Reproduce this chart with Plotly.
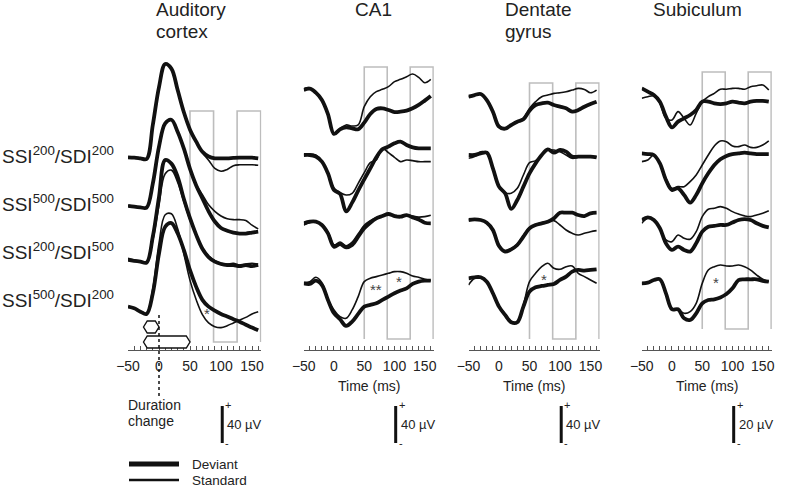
import plotly.graph_objects as go

# ---------------- data ----------------
TIME_MS = list(range(-50, 161, 10))
TICK_MS = [-50, 0, 50, 100, 150]
ROW_LABELS = ["SSI<sup>200</sup>/SDI<sup>200</sup>", "SSI<sup>500</sup>/SDI<sup>500</sup>",
              "SSI<sup>200</sup>/SDI<sup>500</sup>", "SSI<sup>500</sup>/SDI<sup>200</sup>"]
REGION_TITLES = [["Auditory", "cortex"], ["CA1"], ["Dentate", "gyrus"], ["Subiculum"]]
SCALE_UV = [40, 40, 40, 20]
WINDOWS_MS = [50, 88, 126, 164]

# Auditory cortex (µV), rows top->bottom
AC_DEV = [
    [1.1, 0.7, 0, -0.7, 36, 77, 102, 97, 74, 50, 31, 18, 7, 2, 0, 0, 0, 0.4, 0.7, 0.7, 0.7, 0],
    [1, 0, -0.7, -1, 25, 65, 90, 94, 81, 63, 41, 23, 9, -5, -16, -23, -26, -28, -29, -29, -28, -27],
    [2, 1, 0, -1, 27, 70, 110, 106, 92, 68, 47, 29, 14, 5, 0, -2.5, -3.6, -3.6, -4.7, -3.6, -4.7, -3.6],
    [3.6, 1.8, -1.8, -4.3, 18, 61, 90, 94, 83, 65, 43, 25, 11, 3.6, -0.7, -4.3, -7, -10, -12.6, -16, -19, -22],
]
AC_STD = [
    [1.1, 0.7, 0, -0.7, 36, 77, 102, 97, 74, 50, 31, 18, 6, -2, -11, -14, -12, -8, -7, -7, -7, -7.5],
    [1, 0, -0.7, -1, 25, 65, 90, 94, 81, 63, 41, 24, 13, 2, -5, -10, -13, -14, -14, -15, -20, -24],
    [3.6, 1.8, 0, -1, 23, 61, 95, 99, 86, 65, 45, 29, 15, 6, 1, -1.8, -2.5, -1.8, -3.6, -2.5, -1.8, -2.5],
    [3.6, 1.4, -1.8, -3.6, 23, 72, 103, 104, 88, 61, 32, 11, -5, -14, -18, -19, -17, -14, -11, -8, -4.3, -1.8],
]
CA1_DEV = [
    [0, 1.4, -2.9, -10.8, -26, -47.5, -42.5, -40.4, -41.4, -42.5, -35.3, -25.9, -20.5, -19.8, -21.6, -23.8, -23.4, -22.3, -19.8, -16.2, -11.5, -6.5],
    [0, 0, -1.8, -7.2, -19.8, -37.8, -42, -61, -51.5, -38.5, -26.3, -14.4, -2.5, 6.1, 9, 12.6, 14.4, 10.8, 8.3, 7.2, 7.2, 7.2],
    [-1.8, 0, 0, -3.6, -12.6, -27, -24.2, -27.7, -25.2, -16.2, -7.2, -1.1, 3.6, 6.1, 8.3, 6.1, 5.4, 7.2, 4.7, 2.5, -1.1, -1.8],
    [0, -0.7, 2.9, -1.8, -18, -32.4, -38.9, -46.1, -41.4, -33.1, -25.2, -23.4, -21.6, -18, -14.4, -10.8, -7.9, -5.4, -0.7, 1.8, 2.9, 2.9],
]
CA1_STD = [
    [1.4, 2.5, -2.9, -11.5, -27, -47, -41.4, -37.8, -38.9, -37.8, -18, -7.2, -1.8, 0.7, 3.6, 9, 11.5, 14.4, 17.3, 13.7, 7.9, 11.5],
    [0, 1.1, 0, -6.1, -19.8, -36, -40.7, -43.2, -41.4, -30.6, -19.1, -8.3, -5.4, 7.2, 2.5, -2.5, -7.2, -5.4, -6.1, -7.2, -7.2, -7.2],
    [-3.6, -1, 0, -3, -11, -25, -22, -26, -22, -13, -4, 1, 4.5, 6.5, 8.3, 7, 6, 7.5, 6, 5, 5.5, 7],
    [0.7, 1.8, 6.5, 0.7, -17.3, -28.8, -36, -37.8, -28.8, -14.4, 1.8, 5.4, 7.2, 9, 10.8, 12.6, 12.6, 10.8, 7.9, 6.5, 4.3, 2.9],
]
DG_DEV = [
    [0, 1.8, 2.9, -3.6, -16.2, -32.4, -34.6, -30.6, -27, -24.5, -15.1, -9, -7.2, -6.5, -9, -10.8, -12.6, -16.2, -14.4, -10.8, -7.9, -5.4],
    [0, 0, 1.8, 2.5, -14.4, -34.2, -41.4, -58.3, -48.6, -34.2, -19.8, -9, 0, 6.1, 2.5, 5.4, 3.6, -1.8, -1.8, -1.8, -1.8, -2.5],
    [0, 0.7, 0, -2.9, -10.8, -28.1, -34.2, -31.7, -27, -18, -9, -5.4, -3.6, -1.8, 1.8, 7.9, 7.9, 7.9, 5.4, 4.3, 7.2, 7.9],
    [0, 1.1, 1.1, -3.6, -16.2, -30.6, -39.6, -47.5, -47.5, -30.6, -14.4, -9.7, -8.3, -7.2, -6.1, -1.8, 1.8, 7.2, 9, 8.3, 9, 9.7],
]
DG_STD = [
    [0, 1.8, 2.5, -4.3, -17.3, -31.3, -34.2, -30.6, -27, -23.4, -12.6, -5.4, 0, 1.8, 3.6, 4.3, 5.4, 7.2, 9, 7.9, 4.3, 7.2],
    [-3.6, -1.8, 3.6, 1.8, -15.5, -34.2, -40.7, -41.4, -36, -21.6, -8.3, -6.1, 0, 5.4, 5.4, 3.6, 0, -3.6, -2.5, -1.8, -1.8, -1.8],
    [0, 0.7, 0, -2.9, -10.8, -27, -33, -31, -26, -17, -8, -5, -3, -1.5, -0.7, -5.4, -10.8, -14.4, -16.2, -14.4, -12.6, -11.5],
    [-7.2, 0, 1.1, -3.6, -16.2, -30.6, -38.5, -46.8, -46.8, -28.8, -3.6, 5.4, 12.6, 16.2, 10.8, 9.7, 12.6, 13.3, 5.4, 1.8, -1.8, -5.4],
]
SUB_DEV = [
    [0.9, -0.9, -2.7, -6.3, -14.4, -20.2, -17.1, -15.3, -13.5, -10.8, -6.3, -6.3, -7.2, -7.6, -7.2, -6.3, -6.8, -7.2, -6.3, -5.9, -5.9, -6.3],
    [0.9, 0.5, 0, -4.5, -13.5, -18.9, -18, -21.6, -25.7, -21.6, -15.3, -9.9, -5.4, -2.3, -0.5, 0.5, 0.9, 1.3, 0.9, 0.5, 0.5, 0.5],
    [-0.9, 0.5, -0.9, -5.4, -13.5, -17.1, -15.3, -17.1, -18, -13.5, -7.2, -4.5, -4.1, -3.6, -3.6, -2.3, -0.9, -0.4, -0.9, -2.7, -4.1, -4.9],
    [-0.9, -0.5, 0.9, 1.3, -6.3, -14.9, -14.9, -19.8, -20.7, -17.1, -11.7, -9.9, -9.5, -8.5, -6.7, -3.6, 0.9, 1.3, 1.3, 1.3, 0.5, 0],
]
SUB_STD = [
    [-4.5, -3.6, -3.2, -7.2, -15.3, -16.2, -11.7, -15.3, -18.9, -12.6, -6.3, -3.6, -1.8, 0.4, 0.4, 0.9, 0.9, 0.4, 1.8, 2.3, 2.7, 0],
    [-3.6, -2.7, 0, -4.5, -12.6, -18, -17.1, -17.1, -14.4, -10.8, -5.4, 0, 4.9, 7.6, 7.2, 4.9, 4.5, 5.4, 4.1, 4.1, 5.4, 7.7],
    [-2.7, 0, -0.9, -5.4, -11.7, -12.6, -9, -10.8, -11.3, -7.2, 0.9, 4.9, 5.4, 6.3, 5.4, 3.6, 2.3, 1.3, 0.9, 1.8, 2.7, 4.1],
    [-0.9, -0.5, 0.9, 1.3, -6.3, -14.4, -14.9, -17.1, -16.2, -11.7, -0.9, 6.3, 8.1, 9, 8.5, 8.5, 9, 8.1, 6.3, 3.6, 1.3, 0],
]
DEVIANT = [AC_DEV, CA1_DEV, DG_DEV, SUB_DEV]
STANDARD = [AC_STD, CA1_STD, DG_STD, SUB_STD]
# significance marks: (panel, time ms, row, µV above row baseline, text)
STARS = [(0, 77, 3, 1, "*"), (1, 70, 3, -2, "**"), (1, 108, 3, 6, "*"),
         (2, 73, 3, 3, "*"), (3, 72, 3, 2, "*")]

# ---------------- layout constants ----------------
W, H = 800, 488
FONT = "Liberation Sans, Arial, sans-serif"
X_RANGE = [-50, 165]
PANEL_X_PX = [(128, 261.3), (303.75, 433.8), (468.5, 599.65), (641.75, 771.8)]
Y_TOP_PX, Y_BOT_PX = 30, 460
BAR_PX = 37.0  # scale bar length in pixels
ROW_BASE_PX = [[158.3, 206.7, 261.7, 310], [90, 155, 221.7, 283.3],
               [96.7, 155, 220, 278.3], [90, 155, 218.3, 281.7]]
BOX_TOP_PX = [111, 67, 83, 72]
BOX_BOT_PX = [342, 339, 339, 329]
AXIS_PX = 350
TITLE_X_PX = [154, 353, 503, 651]
ROW_LABEL_PX = [155, 203, 251, 299]


def px(x):
    return x / W


def py(y):
    return 1 - y / H


fig = go.Figure()
shapes, annos = [], []
INK = "#111111"

for i in range(4):
    xa = "x" if i == 0 else f"x{i+1}"
    ya = "y" if i == 0 else f"y{i+1}"
    ppu = BAR_PX / SCALE_UV[i]  # px per µV
    offsets = [(Y_BOT_PX - b) / ppu for b in ROW_BASE_PX[i]]
    for r in range(4):
        fig.add_trace(go.Scatter(x=TIME_MS, y=[v + offsets[r] for v in STANDARD[i][r]],
                                 mode="lines", line=dict(color=INK, width=1.6, shape="spline", smoothing=1.0),
                                 xaxis=xa, yaxis=ya, showlegend=False, hoverinfo="skip"))
        fig.add_trace(go.Scatter(x=TIME_MS, y=[v + offsets[r] for v in DEVIANT[i][r]],
                                 mode="lines", line=dict(color=INK, width=3.8, shape="spline", smoothing=1.0),
                                 xaxis=xa, yaxis=ya, showlegend=False, hoverinfo="skip"))
    xk = "xaxis" if i == 0 else f"xaxis{i+1}"
    yk = "yaxis" if i == 0 else f"yaxis{i+1}"
    fig.layout[xk] = dict(domain=[px(PANEL_X_PX[i][0]), px(PANEL_X_PX[i][1])], range=X_RANGE,
                          anchor="free", position=py(AXIS_PX), showline=True, linecolor="#555",
                          linewidth=1, ticks="inside", ticklen=4, tickcolor="#555", tickwidth=1,
                          tickmode="array", tickvals=TICK_MS,
                          minor=dict(tickmode="linear", tick0=-50, dtick=10, ticks="inside", ticklen=4,
                                     tickcolor="#555", tickwidth=1, showgrid=False),
                          tickfont=dict(family=FONT, size=14, color="#222"), ticklabelstandoff=3,
                          showgrid=False, zeroline=False, fixedrange=True, automargin=False)
    fig.layout[yk] = dict(domain=[py(Y_BOT_PX), py(Y_TOP_PX)], range=[0, (Y_BOT_PX - Y_TOP_PX) / ppu],
                          visible=False, anchor=xa, fixedrange=True, automargin=False)

    # analysis windows (meander of grey boxes)
    w = WINDOWS_MS
    t, b = py(BOX_TOP_PX[i]), py(BOX_BOT_PX[i])
    path = (f"M{w[0]},{b} L{w[0]},{t} L{w[1]},{t} L{w[1]},{b} L{w[2]},{b} "
            f"L{w[2]},{t} L{w[3]},{t} L{w[3]},{b}")
    shapes.append(dict(type="path", path=path, xref=xa, yref="paper",
                       line=dict(color="#bdbdbd", width=1.6), layer="below"))

    # scale bar
    bar_t = 102
    y0 = (Y_BOT_PX - 443) / ppu
    shapes.append(dict(type="line", xref=xa, yref=ya, x0=bar_t, x1=bar_t, y0=y0, y1=y0 + SCALE_UV[i],
                       line=dict(color=INK, width=3)))
    annos.append(dict(xref=xa, yref=ya, x=bar_t, y=y0 + SCALE_UV[i] / 2, xanchor="left", xshift=3,
                      text=f"{SCALE_UV[i]} µV", showarrow=False,
                      font=dict(family=FONT, size=13, color="#222")))
    annos.append(dict(xref=xa, yref=ya, x=bar_t, y=y0 + SCALE_UV[i], xanchor="left", xshift=1, yshift=1,
                      text="+", showarrow=False, font=dict(family=FONT, size=11, color="#222")))
    annos.append(dict(xref=xa, yref=ya, x=bar_t, y=y0, xanchor="left", xshift=1, yshift=0,
                      text="-", showarrow=False, font=dict(family=FONT, size=11, color="#222")))

    # titles
    for k, line in enumerate(REGION_TITLES[i]):
        annos.append(dict(xref="paper", yref="paper", x=px(TITLE_X_PX[i]), y=py(10 + 22 * k),
                          xanchor="left", yanchor="middle", text=line, showarrow=False,
                          font=dict(family=FONT, size=19, color="#222")))
    if i > 0:
        annos.append(dict(xref=xa, yref="paper", x=57.5, y=py(386), xanchor="center", yanchor="middle",
                          text="Time (ms)", showarrow=False, font=dict(family=FONT, size=14, color="#222")))

# significance stars
for (p, tm, r, dv, txt) in STARS:
    ppu = BAR_PX / SCALE_UV[p]
    base = (Y_BOT_PX - ROW_BASE_PX[p][r]) / ppu
    annos.append(dict(xref="x" if p == 0 else f"x{p+1}", yref="y" if p == 0 else f"y{p+1}",
                      x=tm, y=base + dv, text=txt, showarrow=False, yshift=-4,
                      font=dict(family=FONT, size=15, color="#444")))

# row labels
for r, lab in enumerate(ROW_LABELS):
    annos.append(dict(xref="paper", yref="paper", x=0.0, y=py(ROW_LABEL_PX[r]), xanchor="left",
                      yanchor="middle", text=lab, showarrow=False, font=dict(family=FONT, size=19, color="#222")))

# stimulus duration icons (short and long tones)
def hexagon(t0, t1, s, top, bot):
    m = (top + bot) / 2
    return (f"M{t0},{m} L{t0+s},{top} L{t1-s},{top} L{t1},{m} L{t1-s},{bot} L{t0+s},{bot} Z")

shapes.append(dict(type="path", path=hexagon(-25, 0, 6, py(321), py(333)), xref="x", yref="paper",
                   line=dict(color=INK, width=1.4), fillcolor="white"))
shapes.append(dict(type="path", path=hexagon(-25, 50, 6, py(336), py(348)), xref="x", yref="paper",
                   line=dict(color=INK, width=1.4), fillcolor="white"))
shapes.append(dict(type="line", xref="x", yref="paper", x0=0, x1=0, y0=py(315), y1=py(397),
                   line=dict(color=INK, width=1.5, dash="dot")))
annos.append(dict(xref="paper", yref="paper", x=px(126), y=py(405), xanchor="left", yanchor="middle",
                  text="Duration", showarrow=False, font=dict(family=FONT, size=14, color="#222")))
annos.append(dict(xref="paper", yref="paper", x=px(126), y=py(421), xanchor="left", yanchor="middle",
                  text="change", showarrow=False, font=dict(family=FONT, size=14, color="#222")))

# legend
shapes.append(dict(type="line", xref="paper", yref="paper", x0=px(129), x1=px(179), y0=py(464), y1=py(464),
                   line=dict(color=INK, width=5)))
shapes.append(dict(type="line", xref="paper", yref="paper", x0=px(129), x1=px(179), y0=py(480), y1=py(480),
                   line=dict(color=INK, width=2.4)))
annos.append(dict(xref="paper", yref="paper", x=px(191), y=py(464), xanchor="left", yanchor="middle",
                  text="Deviant", showarrow=False, borderpad=0, font=dict(family=FONT, size=13.5, color="#222")))
annos.append(dict(xref="paper", yref="paper", x=px(191), y=py(480), xanchor="left", yanchor="middle",
                  text="Standard", showarrow=False, borderpad=0, font=dict(family=FONT, size=13.5, color="#222")))

fig.update_layout(width=W, height=H, margin=dict(l=0, r=0, t=0, b=0, pad=0, autoexpand=False),
                  paper_bgcolor="white", plot_bgcolor="rgba(0,0,0,0)", shapes=shapes, annotations=annos,
                  showlegend=False)
fig.write_html("out.html", config={"responsive": False, "displayModeBar": False},
               post_script="document.body.style.margin='0';document.body.style.overflow='hidden';")
